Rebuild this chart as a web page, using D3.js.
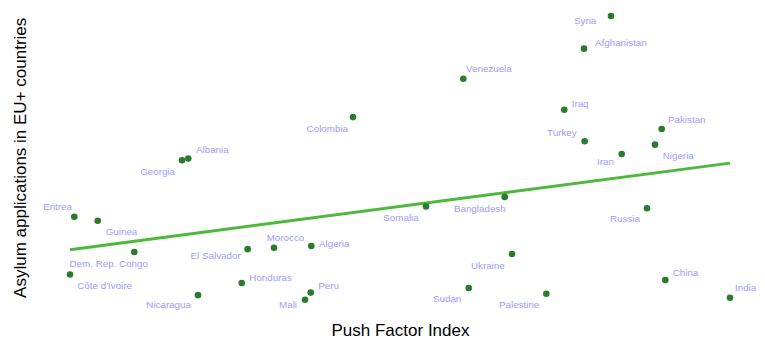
<!DOCTYPE html>
<html>
<head>
<meta charset="utf-8">
<script src="https://cdn.jsdelivr.net/npm/d3@7"></script>
<style>
  html, body { margin: 0; padding: 0; background: #fff; }
  svg { display: block; font-family: "Liberation Sans", Arial, sans-serif; }
</style>
</head>
<body>
<svg id="chart" width="765" height="357"></svg>
<script>
// ---- Data (axes carry no ticks, so units are a 0-100 index) ----
const countries = ["Syria","Afghanistan","Venezuela","Iraq","Colombia","Pakistan","Turkey","Nigeria","Iran",
  "Albania","Georgia","Bangladesh","Somalia","Russia","Eritrea","Guinea","Algeria","Morocco","El Salvador",
  "Dem. Rep. Congo","Ukraine","Côte d'Ivoire","China","Honduras","Sudan","Peru","Palestine","Nicaragua","India","Mali"];
const pushFactor = [81.97,77.88,59.59,74.89,42.88,89.65,77.98,88.64,83.59,
  17.92,16.97,65.86,53.94,87.42,0.65,4.20,36.56,30.91,26.92,
  9.74,66.97,0.00,90.20,26.02,60.41,36.47,72.17,19.39,100.0,35.61];
const asylumApps = [100.0,88.5,77.9,67.0,64.4,60.2,55.9,54.7,51.4,
  49.8,49.2,36.3,32.9,32.3,29.3,27.9,19.0,18.4,17.9,
  16.9,16.2,9.0,7.0,6.0,4.2,2.6,2.2,1.7,0.8,0.1];
const xTitle = "Push Factor Index";
const yTitle = "Asylum applications in EU+ countries";

// ---- Label placement (layout only: anchor side, dx, dy in px from the dot) ----
const labelLayout = {
  "Syria": ["end",-14.7,5], "Afghanistan": ["start",11,-6], "Venezuela": ["start",2.7,-10],
  "Iraq": ["start",7.4,-6], "Colombia": ["end",-5,11.7], "Pakistan": ["start",6.3,-9.7],
  "Turkey": ["end",-8,-8.6], "Nigeria": ["start",7.7,10.6], "Iran": ["end",-7.7,7.7],
  "Albania": ["start",7.7,-9], "Georgia": ["end",-7,11.4], "Bangladesh": ["end",1,11.7],
  "Somalia": ["end",-7.3,11.3], "Russia": ["end",-7,10], "Eritrea": ["end",-2.3,-10],
  "Guinea": ["start",8,11], "Algeria": ["start",7.7,-2.7], "Morocco": ["start",-7.3,-10],
  "El Salvador": ["end",-7,6.7], "Dem. Rep. Congo": ["end",13.7,11.7], "Ukraine": ["end",-7.3,11.3],
  "Côte d'Ivoire": ["start",7.3,10.7], "China": ["start",7.4,-7.3], "Honduras": ["start",7.6,-5.7],
  "Sudan": ["end",-7.4,10], "Peru": ["start",7.6,-6.7], "Palestine": ["end",-7,10.6],
  "Nicaragua": ["end",-7,9.4], "India": ["start",5,-9.7], "Mali": ["end",-8,5]
};

const data = countries.map((c, i) => ({ name: c, x: pushFactor[i], y: asylumApps[i] }));

const svg = d3.select("#chart");
const x = d3.scaleLinear().domain([0, 100]).range([70, 730]);
const y = d3.scaleLinear().domain([0, 100]).range([300, 16]);

// ---- Linear regression trend line (lm fit over data range) ----
const mx = d3.mean(data, d => d.x), my = d3.mean(data, d => d.y);
const slope = d3.sum(data, d => (d.x - mx) * (d.y - my)) / d3.sum(data, d => (d.x - mx) ** 2);
const icpt = my - slope * mx;
const [x0, x1] = d3.extent(data, d => d.x);
const trend = [x0, x1].map(v => ({ x: v, y: icpt + slope * v }));

svg.append("path")
  .datum(trend)
  .attr("fill", "none")
  .attr("stroke", "#4cb93c")
  .attr("stroke-width", 3)
  .attr("d", d3.line().x(d => x(d.x)).y(d => y(d.y)));

// ---- Points ----
svg.append("g").selectAll("circle")
  .data(data).join("circle")
  .attr("cx", d => x(d.x))
  .attr("cy", d => y(d.y))
  .attr("r", 3.3)
  .attr("fill", "#2c7a2c");

// ---- Labels ----
svg.append("g").selectAll("text")
  .data(data).join("text")
  .attr("x", d => x(d.x) + labelLayout[d.name][1])
  .attr("y", d => y(d.y) + labelLayout[d.name][2])
  .attr("dy", "0.35em")
  .attr("text-anchor", d => labelLayout[d.name][0])
  .attr("font-size", 9.8)
  .attr("fill", "#9d9dff")
  .text(d => d.name);

// ---- Axis titles ----
svg.append("text")
  .attr("x", 400.5).attr("y", 336)
  .attr("text-anchor", "middle")
  .attr("font-size", 17)
  .attr("fill", "#000")
  .text(xTitle);

svg.append("text")
  .attr("transform", "translate(26,157.8) rotate(-90)")
  .attr("text-anchor", "middle")
  .attr("font-size", 17)
  .attr("fill", "#000")
  .text(yTitle);
</script>
</body>
</html>
